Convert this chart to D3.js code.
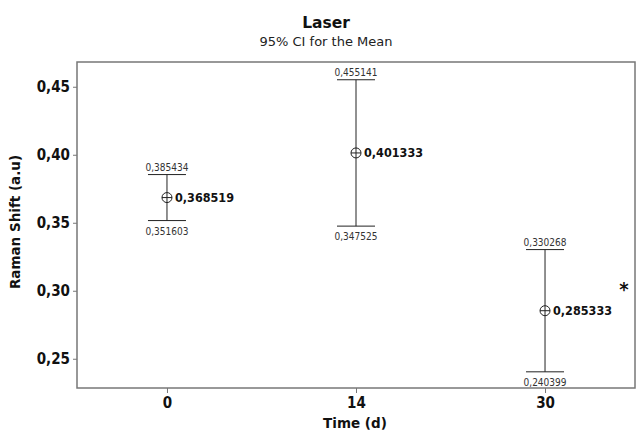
<!DOCTYPE html>
<html>
<head>
<meta charset="utf-8">
<script src="https://cdn.jsdelivr.net/npm/d3@7"></script>
<style>
  body { margin: 0; background: #fff; }
  text { font-family: "DejaVu Sans Condensed", "DejaVu Sans", sans-serif; }
  text.wide { font-family: "DejaVu Sans", sans-serif; }
</style>
</head>
<body>
<svg id="chart"></svg>
<script>
const times = ["0", "14", "30"];
const means = [0.368519, 0.401333, 0.285333];
const lowers = [0.351603, 0.347525, 0.240399];
const uppers = [0.385434, 0.455141, 0.330268];
const yTicks = [0.25, 0.30, 0.35, 0.40, 0.45];

const W = 637, H = 436;
const margin = { top: 62, right: 2, bottom: 48, left: 77 };
const innerW = W - margin.left - margin.right;
const innerH = H - margin.top - margin.bottom;

const fmt = v => v.toFixed(6).replace(".", ",");
const fmtTick = v => v.toFixed(2).replace(".", ",");

const svg = d3.select("#chart").attr("width", W).attr("height", H);

const x = d3.scalePoint().domain(times).range([0, innerW]).padding(0.476);
const y = d3.scaleLinear().domain([0.2285, 0.4682]).range([innerH, 0]);

const g = svg.append("g").attr("transform", `translate(${margin.left},${margin.top})`);

// frame
g.append("rect")
  .attr("width", innerW).attr("height", innerH)
  .attr("fill", "none").attr("stroke", "#777").attr("stroke-width", 1.5);

// y axis
const yAxis = g.append("g")
  .call(d3.axisLeft(y).tickValues(yTicks).tickFormat(fmtTick).tickSize(4).tickPadding(3));
yAxis.select(".domain").remove();
yAxis.selectAll("line").attr("stroke", "#777");
yAxis.selectAll("text").attr("font-size", 15).attr("font-weight", "bold").attr("fill", "#111");

// x axis
const xAxis = g.append("g").attr("transform", `translate(0,${innerH})`)
  .call(d3.axisBottom(x).tickSize(5).tickPadding(4));
xAxis.select(".domain").remove();
xAxis.selectAll("line").attr("stroke", "#777");
xAxis.selectAll("text").attr("font-size", 15).attr("font-weight", "bold").attr("fill", "#111");

const rows = times.map((t, i) => ({ t, mean: means[i], lo: lowers[i], hi: uppers[i] }));
const capW = 19;

const bars = g.selectAll(".ci").data(rows).join("g").attr("class", "ci");

bars.append("line")
  .attr("x1", d => x(d.t)).attr("x2", d => x(d.t))
  .attr("y1", d => y(d.hi)).attr("y2", d => y(d.lo))
  .attr("stroke", "#222");
bars.append("line")
  .attr("x1", d => x(d.t) - capW).attr("x2", d => x(d.t) + capW)
  .attr("y1", d => y(d.hi)).attr("y2", d => y(d.hi))
  .attr("stroke", "#222");
bars.append("line")
  .attr("x1", d => x(d.t) - capW).attr("x2", d => x(d.t) + capW)
  .attr("y1", d => y(d.lo)).attr("y2", d => y(d.lo))
  .attr("stroke", "#222");

// mean symbol: circle with cross
bars.append("circle")
  .attr("cx", d => x(d.t)).attr("cy", d => y(d.mean)).attr("r", 5)
  .attr("fill", "#fff").attr("stroke", "#222");
bars.append("line")
  .attr("x1", d => x(d.t) - 5).attr("x2", d => x(d.t) + 5)
  .attr("y1", d => y(d.mean)).attr("y2", d => y(d.mean))
  .attr("stroke", "#222");
bars.append("line")
  .attr("x1", d => x(d.t)).attr("x2", d => x(d.t))
  .attr("y1", d => y(d.mean) - 5).attr("y2", d => y(d.mean) + 5)
  .attr("stroke", "#222");

bars.append("text")
  .attr("x", d => x(d.t) + 8).attr("y", d => y(d.mean)).attr("dy", "0.35em")
  .attr("font-size", 12.5).attr("font-weight", "bold").attr("fill", "#111")
  .text(d => fmt(d.mean));
bars.append("text")
  .attr("x", d => x(d.t)).attr("y", d => y(d.hi) - 4)
  .attr("text-anchor", "middle").attr("font-size", 10).attr("fill", "#333")
  .text(d => fmt(d.hi));
bars.append("text")
  .attr("x", d => x(d.t)).attr("y", d => y(d.lo) + 14)
  .attr("text-anchor", "middle").attr("font-size", 10).attr("fill", "#333")
  .text(d => fmt(d.lo));

// significance mark
svg.append("text")
  .attr("x", 624).attr("y", 296).attr("text-anchor", "middle")
  .attr("font-size", 20).attr("font-weight", "bold").attr("fill", "#111")
  .text("*");

// titles
svg.append("text").attr("class", "wide").attr("x", 326).attr("y", 28).attr("text-anchor", "middle")
  .attr("font-size", 15.5).attr("font-weight", "bold").attr("fill", "#111").text("Laser");
svg.append("text").attr("class", "wide").attr("x", 326).attr("y", 46).attr("text-anchor", "middle")
  .attr("font-size", 13).attr("fill", "#222").text("95% CI for the Mean");

svg.append("text").attr("class", "wide").attr("x", margin.left + innerW / 2 - 1).attr("y", 428)
  .attr("text-anchor", "middle")
  .attr("font-size", 13.5).attr("font-weight", "bold").attr("fill", "#111").text("Time (d)");
svg.append("text").attr("class", "wide")
  .attr("transform", `translate(20,222) rotate(-90)`)
  .attr("text-anchor", "middle")
  .attr("font-size", 13.5).attr("font-weight", "bold").attr("fill", "#111").text("Raman Shift (a.u)");
</script>
</body>
</html>
